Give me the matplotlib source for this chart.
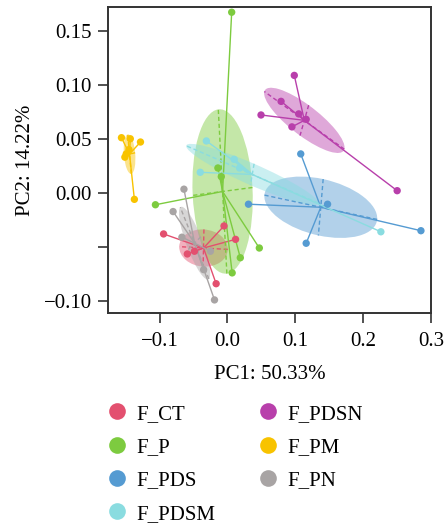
import numpy as np
import matplotlib
matplotlib.use("Agg")
import matplotlib.pyplot as plt
from matplotlib.patches import Ellipse
from matplotlib.lines import Line2D

plt.rcParams['font.family'] = ['Liberation Serif', 'DejaVu Serif']

# ---------------------------------------------------------------------------
# datos
# ---------------------------------------------------------------------------
grupos = ["F_CT", "F_P", "F_PDS", "F_PDSM", "F_PDSN", "F_PM", "F_PN"]
colores = ["#E3506F", "#7DCB3F", "#559BD2", "#8ADCE0", "#B83FAB", "#F8C300", "#A8A4A4"]

ct_x = [-0.094, -0.059, -0.0485, -0.0166, -0.005, 0.012]
ct_y = [-0.038, -0.0565, -0.054, -0.084, -0.0306, -0.043]

p_x = [0.0063, -0.106, 0.047, 0.019, 0.007, -0.014, -0.009]
p_y = [0.167, -0.011, -0.051, -0.060, -0.074, 0.023, 0.015]

pds_x = [0.108, 0.031, 0.1475, 0.116, 0.285]
pds_y = [0.036, -0.0105, -0.0105, -0.0466, -0.035]

pdsm_x = [-0.031, -0.040, 0.010, 0.018, 0.226]
pdsm_y = [0.048, 0.019, 0.031, 0.023, -0.036]

pdsn_x = [0.0985, 0.079, 0.0495, 0.105, 0.095, 0.250, 0.116]
pdsn_y = [0.1086, 0.0846, 0.072, 0.073, 0.061, 0.002, 0.068]

pm_x = [-0.156, -0.128, -0.143, -0.149, -0.151, -0.145, -0.137]
pm_y = [0.051, 0.047, 0.050, 0.036, 0.033, 0.040, -0.006]

pn_x = [-0.064, -0.080, -0.025, -0.035, -0.019, -0.067]
pn_y = [0.0034, -0.0173, -0.054, -0.071, -0.099, -0.041]

datos_x = [ct_x, p_x, pds_x, pdsm_x, pdsn_x, pm_x, pn_x]
datos_y = [ct_y, p_y, pds_y, pdsm_y, pdsn_y, pm_y, pn_y]

xticks = [-0.1, 0.0, 0.1, 0.2, 0.3]
yticks = [-0.10, -0.05, 0.00, 0.05, 0.10, 0.15]
ytick_labels = ["\u22120.10", "", "0.00", "0.05", "0.10", "0.15"]
xtick_labels = ["\u22120.1", "0.0", "0.1", "0.2", "0.3"]

# ---------------------------------------------------------------------------
# figura
# ---------------------------------------------------------------------------
fig = plt.figure(figsize=(4.44, 5.25), dpi=100)
ax = fig.add_axes([0.243, 0.404, 0.728, 0.583])

for gx, gy, col in zip(datos_x, datos_y, colores):
    gx = np.array(gx)
    gy = np.array(gy)
    cx, cy = gx.mean(), gy.mean()

    # elipse (1 desviacion tipica, covarianza poblacional)
    cov = np.cov(gx, gy, bias=True)
    vals, vecs = np.linalg.eigh(cov)
    orden = vals.argsort()[::-1]
    vals, vecs = vals[orden], vecs[:, orden]
    a, b = np.sqrt(vals)
    ang = np.degrees(np.arctan2(vecs[1, 0], vecs[0, 0]))
    ax.add_patch(Ellipse((cx, cy), 2 * a, 2 * b, angle=ang,
                         facecolor=col, edgecolor="none", alpha=0.45, zorder=1))

    # ejes de la elipse (discontinuos)
    for k, s in enumerate([a, b]):
        v = vecs[:, k] * s
        ax.plot([cx - v[0], cx + v[0]], [cy - v[1], cy + v[1]],
                color=col, lw=1.0, ls=(0, (3, 2)), zorder=2)

    # radios centroide -> puntos
    for xi, yi in zip(gx, gy):
        ax.plot([cx, xi], [cy, yi], color=col, lw=1.0, zorder=2)

    ax.scatter(gx, gy, s=28, color=col, edgecolors="none", zorder=3)

ax.set_xlim(-0.176, 0.3)
ax.set_ylim(-0.111, 0.172)
ax.set_xticks(xticks)
ax.set_xticklabels(xtick_labels)
ax.set_yticks(yticks)
ax.set_yticklabels(ytick_labels)
ax.tick_params(labelsize=15, length=7.5, width=1.2, color="#333333")
ax.tick_params(axis="x", pad=6)
ax.tick_params(axis="y", pad=4)
for sp in ax.spines.values():
    sp.set_color("#333333")
    sp.set_linewidth(1.4)

ax.set_xlabel("PC1: 50.33%", fontsize=15, labelpad=10)
ax.set_ylabel("PC2: 14.22%", fontsize=15, labelpad=6)

# leyenda
handles = [Line2D([], [], marker="o", ls="none", markersize=12,
                  markerfacecolor=c, markeredgecolor="none") for c in colores]
fig.legend(handles, grupos, ncol=2, frameon=False, fontsize=15,
           loc="upper left", bbox_to_anchor=(0.194, 0.266),
           handletextpad=0.3, columnspacing=1.95, labelspacing=0.66,
           handlelength=1.2)

fig.savefig("out.png", dpi=100)
